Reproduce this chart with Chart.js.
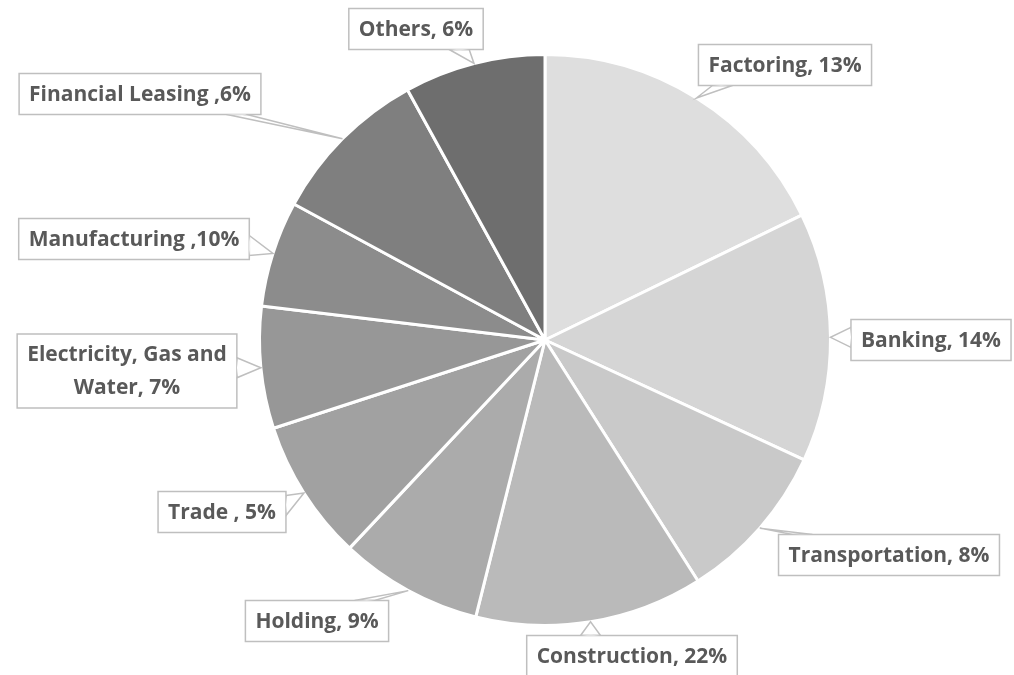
<!DOCTYPE html>
<html>
<head>
<meta charset="utf-8">
<script src="https://cdn.jsdelivr.net/npm/chart.js@4.4.1/dist/chart.umd.min.js"></script>
<style>
  html, body { margin: 0; padding: 0; background: #fff; }
  #wrap { width: 1014px; height: 675px; }
</style>
</head>
<body>
<div id="wrap"><canvas id="pie" width="1014" height="675"></canvas></div>
<script>
// ── Data (slice shares; labels as printed) ────────────────────────────────────
const SECTORS = ['Factoring', 'Banking', 'Transportation', 'Construction', 'Holding',
  'Trade', 'Electricity, Gas and Water', 'Manufacturing', 'Financial Leasing', 'Others'];
const SHARES = [17.8, 14.1, 9.1, 12.9, 8.1, 8.0, 6.9, 6.0, 9.1, 8.0];
const LABELS = [
  ['Factoring, 13%'], ['Banking, 14%'], ['Transportation, 8%'], ['Construction, 22%'],
  ['Holding, 9%'], ['Trade , 5%'], ['Electricity, Gas and', 'Water, 7%'],
  ['Manufacturing ,10%'], ['Financial Leasing ,6%'], ['Others, 6%'],
];
const SHADES = ['#dedede', '#d5d5d5', '#c9c9c9', '#bababa', '#ababab',
  '#a1a1a1', '#979797', '#8c8c8c', '#7f7f7f', '#6e6e6e'];

// callout box centres (layout only)
const BOX_POS = [
  [785, 65], [931, 340], [889, 555], [632, 656], [317, 621],
  [222, 512], [127, 371], [134, 239], [140, 94], [416, 29],
];

const FONT = 'bold 21px "Open Sans"';
const LINE_H = 33;
const PAD_X = 10, PAD_Y = 8;

// ── Callout plugin ────────────────────────────────────────────────────────────
const callouts = {
  id: 'callouts',
  afterDraw(chart) {
    const ctx = chart.ctx;
    const meta = chart.getDatasetMeta(0);
    ctx.save();
    ctx.font = FONT;
    meta.data.forEach((arc, i) => {
      const p = arc.getProps(['x', 'y', 'startAngle', 'endAngle', 'outerRadius'], true);
      const mid = (p.startAngle + p.endAngle) / 2;
      const ax = p.x + Math.cos(mid) * p.outerRadius;
      const ay = p.y + Math.sin(mid) * p.outerRadius;

      const lines = LABELS[i];
      const tw = Math.max(...lines.map((l) => ctx.measureText(l).width));
      const w = tw + PAD_X * 2;
      const h = lines.length * LINE_H + PAD_Y * 2 - 8;
      const [cx, cy] = BOX_POS[i];
      const L = cx - w / 2, R = cx + w / 2, T = cy - h / 2, B = cy + h / 2;

      // tail base on the edge facing the anchor
      const hw = 10, m = 14;
      let b1, b2;
      if (ay < T || ay > B) {
        const ey = ay < T ? T : B;
        const bx = Math.min(Math.max(ax, L + m + hw), R - m - hw);
        b1 = [bx - hw, ey]; b2 = [bx + hw, ey];
      } else {
        const ex = ax < L ? L : R;
        const by = Math.min(Math.max(ay, T + m), B - m);
        b1 = [ex, by - hw]; b2 = [ex, by + hw];
      }

      ctx.lineWidth = 1.5;
      ctx.strokeStyle = '#bfbfbf';
      ctx.fillStyle = '#ffffff';
      // tail
      ctx.beginPath();
      ctx.moveTo(b1[0], b1[1]); ctx.lineTo(ax, ay); ctx.lineTo(b2[0], b2[1]);
      ctx.closePath(); ctx.fill(); ctx.stroke();
      // box
      ctx.beginPath();
      ctx.rect(L, T, w, h);
      ctx.fill(); ctx.stroke();
      // open the joint between box and tail
      ctx.beginPath();
      ctx.moveTo(b1[0], b1[1]); ctx.lineTo((b1[0] + b2[0]) / 2 + (ax - (b1[0] + b2[0]) / 2) * 0.05,
        (b1[1] + b2[1]) / 2 + (ay - (b1[1] + b2[1]) / 2) * 0.05); ctx.lineTo(b2[0], b2[1]);
      ctx.closePath(); ctx.fill();

      ctx.fillStyle = '#595959';
      ctx.textAlign = 'center';
      ctx.textBaseline = 'middle';
      const y0 = cy - ((lines.length - 1) * LINE_H) / 2;
      lines.forEach((l, k) => ctx.fillText(l, cx, y0 + k * LINE_H + 1));
    });
    ctx.restore();
  },
};

new Chart(document.getElementById('pie'), {
  type: 'pie',
  data: {
    labels: SECTORS,
    datasets: [{
      data: SHARES,
      backgroundColor: SHADES,
      borderColor: '#ffffff',
      borderWidth: 3,
    }],
  },
  options: {
    responsive: false,
    animation: false,
    devicePixelRatio: 1,
    layout: { padding: { top: 53, bottom: 48, left: 76, right: 0 } },
    plugins: { legend: { display: false }, tooltip: { enabled: false } },
  },
  plugins: [callouts],
});
</script>
</body>
</html>
